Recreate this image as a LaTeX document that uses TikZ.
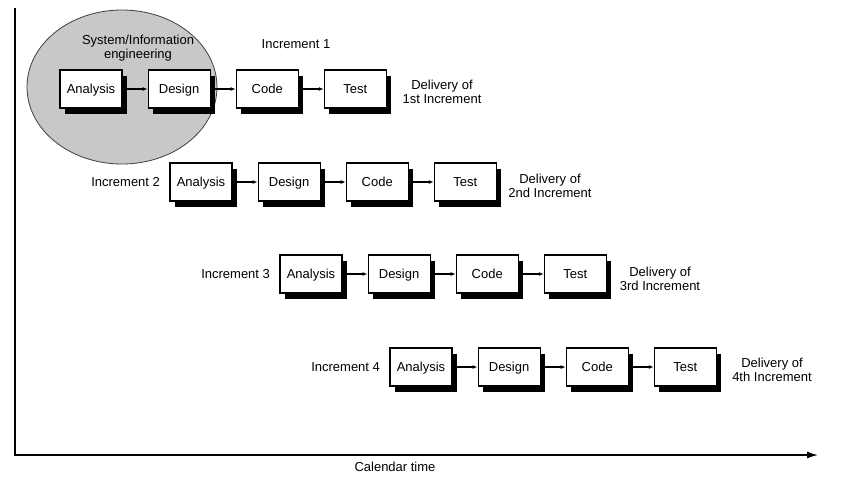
\documentclass[tikz,border=0pt]{standalone}
\usepackage{fontspec}
\setmainfont{Liberation Sans}
\usepackage{tikz}
\definecolor{ovalgray}{RGB}{200,200,200}
\usetikzlibrary{positioning,shadows,arrows.meta,shapes.geometric}

\begin{document}
\begin{tikzpicture}[x=1pt, y=-1pt,
    phase/.style={draw, line width=1.1pt, fill=white, minimum width=62pt, minimum height=38pt,
        text height=10pt, text depth=1.5pt, font=\fontsize{13}{15}\selectfont,
        drop shadow={shadow xshift=5pt, shadow yshift=-6pt, fill=black, opacity=1}},
    lbl/.style={align=center, font=\fontsize{13}{14.5}\selectfont},
    flow/.style={-{Latex[length=5pt,width=4pt]}, line width=1.5pt}]
    \useasboundingbox (0,0) rectangle (850,480);

    % Oval for system/information engineering
    \draw[fill=ovalgray, draw=black!75, thick] (122,87) ellipse (95 and 77);
    \node[lbl] (sie) at (138,48) {System/Information\\engineering};

    % Increment 1
    \node[phase] (ana1) at (91,89) {Analysis};
    \node[phase, right=25pt of ana1] (des1) {Design};
    \node[phase, right=25pt of des1] (cod1) {Code};
    \node[phase, right=25pt of cod1] (tst1) {Test};
    \node[lbl] (inc1) at (296,44) {Increment 1};
    \node[lbl] (del1) at (442,92) {Delivery of\\1st Increment};

    % Increment 2
    \node[phase] (ana2) at (201,182) {Analysis};
    \node[phase, right=25pt of ana2] (des2) {Design};
    \node[phase, right=25pt of des2] (cod2) {Code};
    \node[phase, right=25pt of cod2] (tst2) {Test};
    \node[lbl, left=6pt of ana2] (inc2) {Increment 2};
    \node[lbl] (del2) at (550,186) {Delivery of\\2nd Increment};

    % Increment 3
    \node[phase] (ana3) at (311,274) {Analysis};
    \node[phase, right=25pt of ana3] (des3) {Design};
    \node[phase, right=25pt of des3] (cod3) {Code};
    \node[phase, right=25pt of cod3] (tst3) {Test};
    \node[lbl, left=6pt of ana3] (inc3) {Increment 3};
    \node[lbl] (del3) at (660,279) {Delivery of\\3rd Increment};

    % Increment 4
    \node[phase] (ana4) at (421,367) {Analysis};
    \node[phase, right=25pt of ana4] (des4) {Design};
    \node[phase, right=25pt of des4] (cod4) {Code};
    \node[phase, right=25pt of cod4] (tst4) {Test};
    \node[lbl, left=6pt of ana4] (inc4) {Increment 4};
    \node[lbl] (del4) at (772,370) {Delivery of\\4th Increment};

    % Arrows between phases
    \draw[flow] (ana1) -- (des1);
    \draw[flow] (des1) -- (cod1);
    \draw[flow] (cod1) -- (tst1);
    \draw[flow] (ana2) -- (des2);
    \draw[flow] (des2) -- (cod2);
    \draw[flow] (cod2) -- (tst2);
    \draw[flow] (ana3) -- (des3);
    \draw[flow] (des3) -- (cod3);
    \draw[flow] (cod3) -- (tst3);
    \draw[flow] (ana4) -- (des4);
    \draw[flow] (des4) -- (cod4);
    \draw[flow] (cod4) -- (tst4);

    % Time axes
    \coordinate (top) at (15,8);
    \coordinate (origin) at (15,455);
    \coordinate (tend) at (818,455);
    \draw[line width=1.4pt, -{Latex[length=11pt,width=7pt]}] (top) -- (origin) -- (tend);
    \node[lbl] (cal) at (395,467) {Calendar time};
\end{tikzpicture}
\end{document}
